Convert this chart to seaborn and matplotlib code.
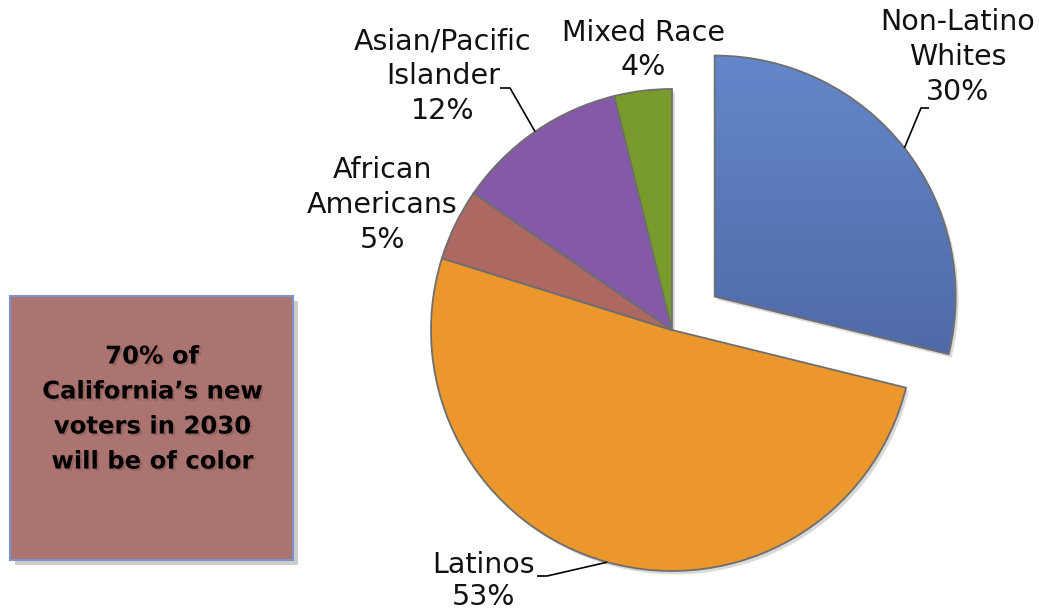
import numpy as np
import matplotlib
matplotlib.use("Agg")
import matplotlib.pyplot as plt
import matplotlib.patches as mpatches
import matplotlib.patheffects as pe
from matplotlib.colors import LinearSegmentedColormap
import seaborn as sns

groups = ["Non-Latino\nWhites", "Latinos", "African\nAmericans", "Asian/Pacific\nIslander", "Mixed Race"]
shares = [30, 53, 5, 12, 4]
colors = ["#5b7dc0", "#eb972c", "#ad6862", "#845aa8", "#789b2b"]
note = "70% of\nCalifornia\u2019s new\nvoters in 2030\nwill be of color"

sns.set_theme(style="white")
plt.rcParams['font.family'] = ['DejaVu Sans']

W, H = 1039, 614
CX, CY, R = 672, 330, 241   # pie centre / radius in image pixels


def px(x, y):
    # image pixel -> data units (pie radius = 1)
    return ((x - CX) / R, (CY - y) / R)


fig = plt.figure(figsize=(W / 100, H / 100), dpi=100)
ax = fig.add_axes([0, 0, 1, 1])
pal = sns.color_palette(colors)

explode = [0.225, 0, 0, 0, 0]
wedges, _ = ax.pie(shares, colors=pal, startangle=90, counterclock=False,
                   explode=explode, radius=1,
                   wedgeprops=dict(edgecolor="#6e6e6e", linewidth=1.3))

# soft shadows under the slices
for w in wedges:
    sh = mpatches.Wedge((w.center[0] + 0.012, w.center[1] - 0.014), w.r,
                        w.theta1, w.theta2, facecolor="#000000", alpha=0.15,
                        edgecolor="none", zorder=0.5)
    ax.add_patch(sh)

# vertical gradient on the exploded slice
w0 = wedges[0]
cmap = LinearSegmentedColormap.from_list("blu", ["#4d67a4", "#6488cc"])
grad = np.linspace(0, 1, 256).reshape(-1, 1)
x0, y0 = w0.center
im = ax.imshow(grad, extent=[x0, x0 + 1.05, y0 - 0.35, y0 + 1.02], origin="lower",
               cmap=cmap, aspect="auto", zorder=0.9)
im.set_clip_path(w0)
w0.set_facecolor("none")

ax.set_xlim(px(0, 0)[0], px(W, 0)[0])
ax.set_ylim(px(0, H)[1], px(0, 0)[1])
ax.set_aspect("equal")
ax.set_axis_off()


def edge_point(w):
    t = np.radians((w.theta1 + w.theta2) / 2)
    return (w.center[0] + w.r * np.cos(t), w.center[1] + w.r * np.sin(t))


lab_kw = dict(fontsize=20.5, color="#111111", linespacing=1.3)
pct = [f"{v}%" for v in shares]

# labels
ax.text(*px(958, 57), f"{groups[0]}\n{pct[0]}", ha="center", va="center", **lab_kw)
ax.text(*px(643, 50), f"{groups[4]}\n{pct[4]}", ha="center", va="center", **lab_kw)
ax.text(*px(443, 76), f"{groups[3]}\n{pct[3]}", ha="center", va="center", **lab_kw)
ax.text(*px(382, 205), f"{groups[2]}\n{pct[2]}", ha="center", va="center", **lab_kw)
ax.text(*px(484, 581), f"{groups[1]}\n{pct[1]}", ha="center", va="center",
        **{**lab_kw, "linespacing": 1.2})

# leader lines
lead = [(0, (929, 108), (921, 108)),
        (3, (500, 88), (510, 88)),
        (1, (537, 576), (547, 576))]
for i, a, b in lead:
    ex, ey = edge_point(wedges[i])
    pa, pb = px(*a), px(*b)
    ax.plot([pa[0], pb[0], ex], [pa[1], pb[1], ey], color="black", lw=1.2,
            solid_capstyle="butt", zorder=3)

# call-out box
bx0, by1 = px(10, 296)
bx1, by0 = px(293, 560)
ax.add_patch(mpatches.Rectangle((bx0 + 0.02, by0 - 0.02), bx1 - bx0, by1 - by0,
                                facecolor="#000000", alpha=0.2, edgecolor="none", zorder=2))
ax.add_patch(mpatches.Rectangle((bx0, by0), bx1 - bx0, by1 - by0,
                                facecolor="#ab7470", edgecolor="#7b95cb", lw=1.5, zorder=2.1))
ax.text(*px(152, 409), note, ha="center", va="center", fontsize=17.5,
        fontweight="bold", color="black", linespacing=1.58, zorder=3,
        path_effects=[pe.SimplePatchShadow(offset=(1.5, -1.5), shadow_rgbFace="#000000", alpha=0.12),
                      pe.Normal()])

fig.savefig("out.png", dpi=100)
